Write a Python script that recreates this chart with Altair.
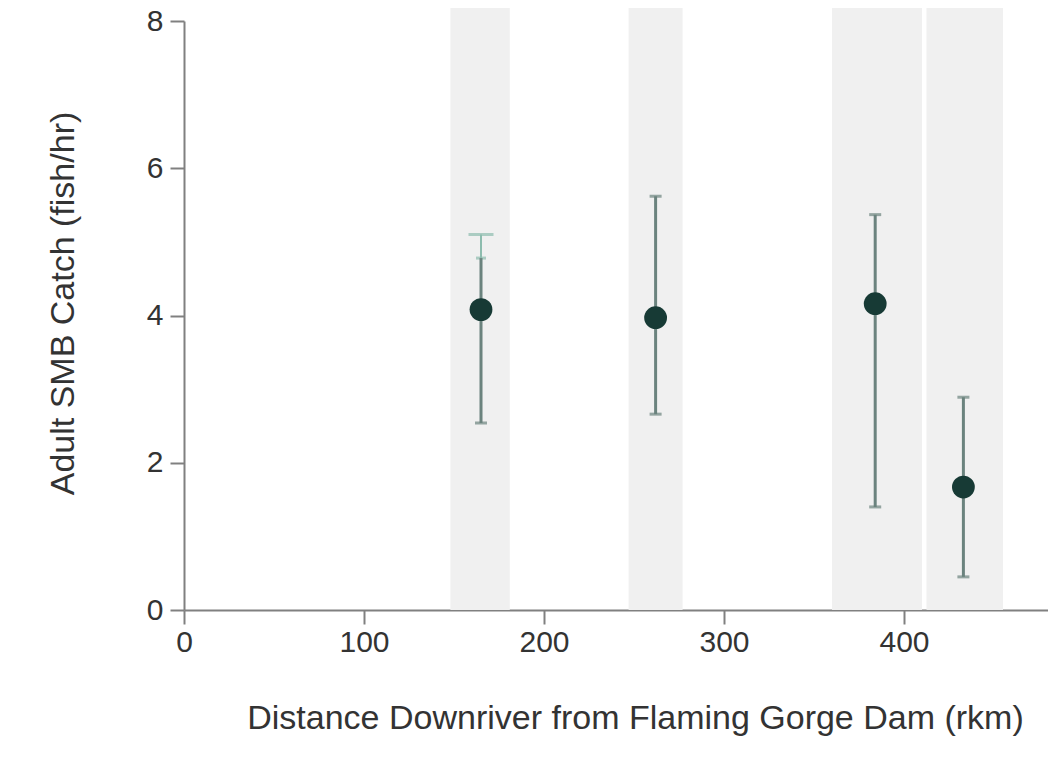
import altair as alt
import pandas as pd

# ---- data ----
site_rkm = [165, 262, 384, 433]
catch_rate = [4.08, 3.97, 4.16, 1.67]
ci_low = [2.54, 2.66, 1.40, 0.45]
ci_high = [4.78, 5.62, 5.37, 2.89]

# lighter upper extension shown on the first site only
ext_rkm = [165]
ext_low = [4.78]
ext_high = [5.10]

band_start = [148, 247, 360, 412.5]
band_end = [181, 277, 410, 455]
band_top = [8.18, 8.18, 8.18, 8.18]

x_ticks = [0, 100, 200, 300, 400]
y_ticks = [0, 2, 4, 6, 8]

pts = pd.DataFrame({"rkm": site_rkm, "catch": catch_rate, "lo": ci_low, "hi": ci_high})
ext = pd.DataFrame({"rkm": ext_rkm, "lo": ext_low, "hi": ext_high})
bands = pd.DataFrame({"x0": band_start, "x1": band_end, "top": band_top, "bot": [0] * len(band_start)})

FONT = "Liberation Sans"
TEXT = "#333333"
AXIS = "#808080"
ERR = "#6b837e"
EXT = "#8dbcae"

xscale = alt.Scale(domain=[0, 480], nice=False, zero=False)
yscale = alt.Scale(domain=[0, 8], nice=False)

xaxis = alt.Axis(
    values=x_ticks, format="d", title="Distance Downriver from Flaming Gorge Dam (rkm)",
    titleX=451, titleY=118, titleBaseline="alphabetic", titleAlign="center",
    labelPadding=3, labelFlush=False,
)
yaxis = alt.Axis(
    values=y_ticks, format="d", title="Adult SMB Catch (fish/hr)",
    titleX=-111, titleY=282, titleAngle=270, titleBaseline="alphabetic", titleAlign="center",
    labelPadding=7, labelFlush=False,
)

band_layer = alt.Chart(bands).mark_rect(color="#f0f0f0").encode(
    x=alt.X("x0:Q", scale=xscale, axis=xaxis),
    x2="x1:Q",
    y=alt.Y("bot:Q", scale=yscale, axis=yaxis),
    y2="top:Q",
)

err = alt.Chart(pts).mark_rule(color=ERR, strokeWidth=3).encode(
    x="rkm:Q", y="lo:Q", y2="hi:Q"
)
cap_lo = alt.Chart(pts).mark_tick(color=ERR, orient="horizontal", size=12, thickness=3).encode(
    x="rkm:Q", y="lo:Q"
)
cap_hi = alt.Chart(pts).transform_filter("datum.rkm != 165").mark_tick(
    color=ERR, orient="horizontal", size=12, thickness=3
).encode(x="rkm:Q", y="hi:Q")

ext_rule = alt.Chart(ext).mark_rule(color=EXT, strokeWidth=2).encode(
    x="rkm:Q", y="lo:Q", y2="hi:Q"
)
ext_cap_lo = alt.Chart(ext).mark_tick(color=EXT, orient="horizontal", size=10, thickness=3).encode(
    x="rkm:Q", y="lo:Q"
)
ext_cap = alt.Chart(ext).mark_tick(color=EXT, orient="horizontal", size=25, thickness=3).encode(
    x="rkm:Q", y="hi:Q"
)

points = alt.Chart(pts).mark_point(filled=True, size=520, color="#173a35", opacity=1).encode(
    x="rkm:Q", y="catch:Q"
)

chart = alt.layer(band_layer, ext_rule, ext_cap, ext_cap_lo, err, cap_lo, cap_hi, points).properties(
    width=864, height=589,
    autosize=alt.AutoSizeParams(type="none"),
    padding={"left": 176, "top": 13, "right": 0, "bottom": 135},
    background="white",
).configure_view(stroke=None).configure_axis(
    labelFont=FONT, titleFont=FONT, labelFontSize=30, titleFontSize=34,
    labelColor=TEXT, titleColor=TEXT, titleFontWeight="normal",
    domainColor=AXIS, domainWidth=2, tickColor=AXIS, tickWidth=2, tickSize=14,
    grid=False,
)

chart.save("out.html", embed_options={"renderer": "svg", "actions": False})
